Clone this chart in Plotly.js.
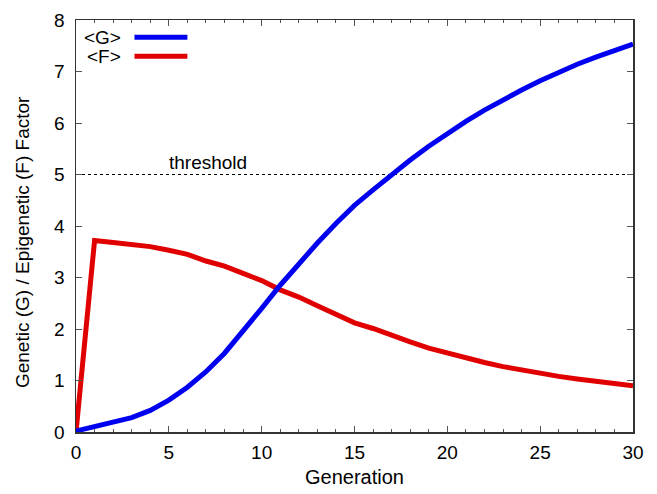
<!DOCTYPE html>
<html>
<head>
<meta charset="utf-8">
<script src="https://cdn.plot.ly/plotly-3.0.1.min.js"></script>
<style>html,body{margin:0;padding:0;background:#fff;}#chart{width:657px;height:494px;}</style>
</head>
<body>
<div id="chart"></div>
<script>
const generations = [0,1,2,3,4,5,6,7,8,9,10,11,12,13,14,15,16,17,18,19,20,21,22,23,24,25,26,27,28,29,30];
const geneticG = [0.02,0.1,0.18,0.28,0.42,0.62,0.87,1.17,1.53,1.95,2.4,2.85,3.27,3.67,4.05,4.4,4.7,5.0,5.28,5.55,5.8,6.03,6.25,6.45,6.64,6.82,6.99,7.14,7.28,7.41,7.53];
const epigeneticF = [0.0,3.72,3.68,3.64,3.6,3.53,3.45,3.32,3.22,3.08,2.94,2.76,2.62,2.45,2.28,2.12,2.01,1.87,1.75,1.63,1.53,1.43,1.35,1.27,1.2,1.14,1.08,1.03,0.99,0.95,0.9];
const thresholdValue = 5;
const thresholdX = [0, 30];
const seriesNames = ["&lt;G&gt;", "&lt;F&gt;"];

const font = "Liberation Sans, Arial, Helvetica, sans-serif";
const blue = "#0000f0", red = "#e00000";

const traces = [
  {x: thresholdX, y: [thresholdValue, thresholdValue], mode: "lines", line: {color: "#000", width: 1, dash: "dot"}, showlegend: false, hoverinfo: "skip"},
  {x: generations, y: epigeneticF, mode: "lines", name: "<F>", line: {color: red, width: 5}, showlegend: false},
  {x: generations, y: geneticG, mode: "lines", name: "<G>", line: {color: blue, width: 5}, showlegend: false}
];

const axisCommon = {
  showgrid: false, zeroline: false, showline: true, linecolor: "#333", linewidth: 1.5,
  mirror: "ticks", ticks: "inside", ticklen: 6, tickcolor: "#555", tickwidth: 1,
  tickfont: {family: font, size: 19, color: "#000"}
};

const layout = {
  width: 657, height: 494,
  margin: {l: 76, r: 24, t: 20, b: 62},
  paper_bgcolor: "#fff", plot_bgcolor: "#fff",
  font: {family: font, color: "#000"},
  xaxis: Object.assign({}, axisCommon, {
    range: [0, 30], dtick: 5, tick0: 0, ticklabelstandoff: 3,
    minor: {dtick: 1, ticks: "inside", ticklen: 3, tickcolor: "#555"},
    title: {text: "Generation", font: {family: font, size: 20}, standoff: 7}
  }),
  yaxis: Object.assign({}, axisCommon, {
    range: [0, 8], dtick: 1, tick0: 0, ticklabelstandoff: 6
  }),
  annotations: [
    {x: -0.097, y: 0.461, xref: "paper", yref: "paper", text: "Genetic (G) / Epigenetic (F) Factor", textangle: -90, showarrow: false, xanchor: "center", yanchor: "middle", font: {family: font, size: 19}},
    {x: 7.1, y: thresholdValue, xref: "x", yref: "y", text: "threshold", showarrow: false, yanchor: "bottom", yshift: 0, font: {family: font, size: 19}},
    {x: 0.085, y: 0.958, xref: "paper", yref: "paper", text: seriesNames[0], showarrow: false, xanchor: "right", yanchor: "middle", font: {family: font, size: 19}},
    {x: 0.085, y: 0.912, xref: "paper", yref: "paper", text: seriesNames[1], showarrow: false, xanchor: "right", yanchor: "middle", font: {family: font, size: 19}}
  ],
  shapes: [
    {type: "line", xref: "paper", yref: "paper", x0: 0.105, x1: 0.2, y0: 0.958, y1: 0.958, line: {color: blue, width: 5}},
    {type: "line", xref: "paper", yref: "paper", x0: 0.105, x1: 0.2, y0: 0.912, y1: 0.912, line: {color: red, width: 5}}
  ]
};

Plotly.newPlot("chart", traces, layout, {displayModeBar: false, staticPlot: true});
</script>
</body>
</html>
